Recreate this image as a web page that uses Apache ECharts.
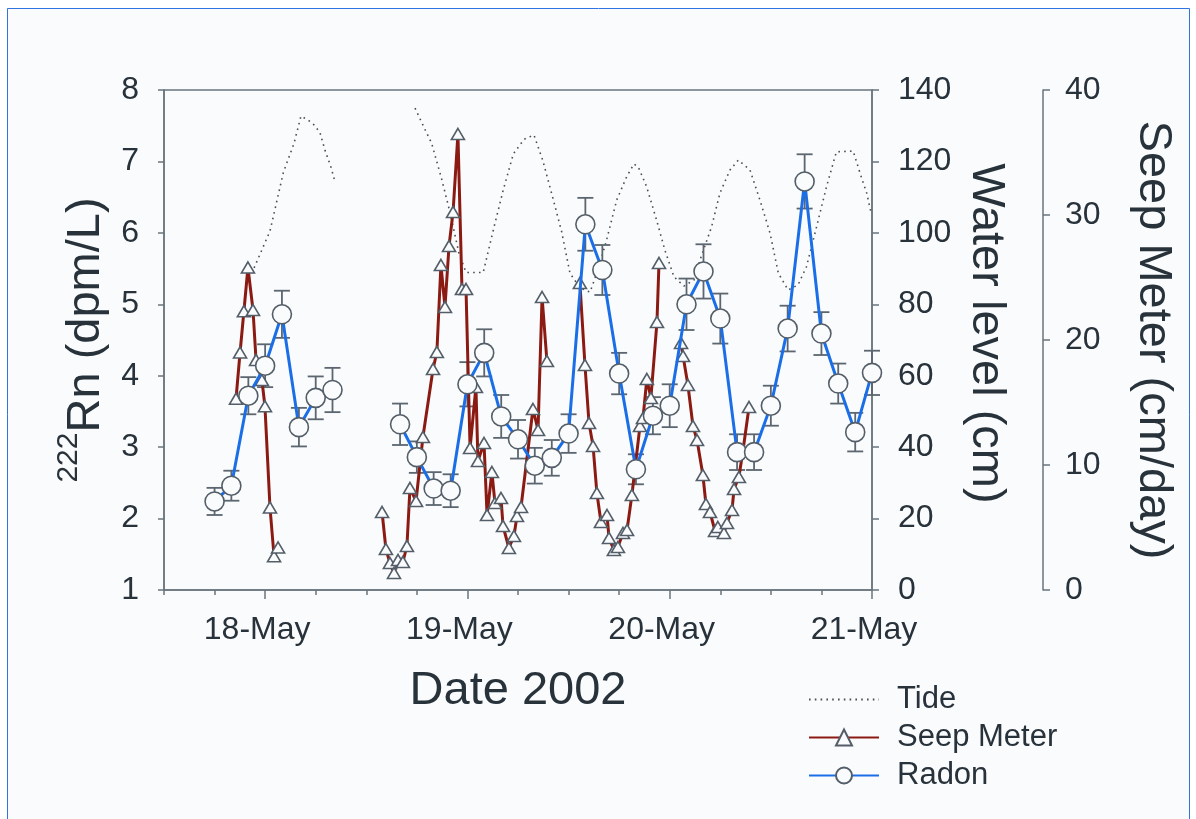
<!DOCTYPE html>
<html>
<head>
<meta charset="utf-8">
<script src="https://cdn.jsdelivr.net/npm/echarts@6/dist/echarts.min.js"></script>
<style>
html,body{margin:0;padding:0;background:#ffffff;}
#chart{width:1196px;height:819px;}
</style>
</head>
<body>
<div id="chart"></div>
<script>
// ---- Data (time in decimal day-of-May 2002) ----
const dayTicks = [18, 19, 20, 21];
const dayLabels = ['18-May', '19-May', '20-May', '21-May'];
const quarterTicks = [17.5, 17.75, 18, 18.25, 18.5, 18.75, 19, 19.25, 19.5, 19.75, 20, 20.25, 20.5, 20.75, 21];

// Radon (dpm/L), null = gap
const radonTime = [17.75, 17.833, 17.917, 18.0, 18.083, 18.167, 18.25, 18.333, null,
  18.667, 18.75, 18.833, 18.917, 19.0, 19.083, 19.167, 19.25, 19.333, 19.417, 19.5,
  19.583, 19.667, 19.75, 19.833, 19.917, 20.0, 20.083, 20.167, 20.25, 20.333, 20.417,
  20.5, 20.583, 20.667, 20.75, 20.833, 20.917, 21.0];
const radonValue = [2.24, 2.46, 3.72, 4.14, 4.86, 3.28, 3.69, 3.80, null,
  3.32, 2.86, 2.42, 2.39, 3.88, 4.32, 3.43, 3.11, 2.74, 2.85, 3.19,
  6.12, 5.48, 4.03, 2.69, 3.44, 3.58, 5.00, 5.46, 4.80, 2.93, 2.93,
  3.58, 4.66, 6.72, 4.59, 3.89, 3.21, 4.04];
const radonError = [0.19, 0.21, 0.26, 0.30, 0.33, 0.27, 0.30, 0.31, null,
  0.29, 0.22, 0.23, 0.23, 0.31, 0.33, 0.30, 0.27, 0.25, 0.25, 0.27,
  0.37, 0.35, 0.29, 0.21, 0.26, 0.30, 0.36, 0.38, 0.35, 0.25, 0.25,
  0.28, 0.32, 0.38, 0.30, 0.28, 0.27, 0.31];

// Seep meter (cm/day), null = gap
const seepTime = [17.856, 17.876, 17.895, 17.915, 17.940, 17.955, 17.984, 17.999, 18.024, 18.044, 18.064, null,
  18.578, 18.597, 18.617, 18.637, 18.657, 18.681, 18.701, 18.716, 18.746, 18.780, 18.830, 18.849,
  18.869, 18.889, 18.909, 18.929, 18.953, 18.973, 18.993, 19.013, 19.042, 19.052, 19.082, 19.097,
  19.121, 19.136, 19.166, 19.176, 19.205, 19.230, 19.245, 19.265, 19.324, 19.349, 19.369, 19.393, null,
  19.556, 19.581, 19.601, 19.621, 19.640, 19.660, 19.690, 19.700, 19.724, 19.744, 19.769, 19.789,
  19.813, 19.853, 19.868, 19.887, 19.907, 19.937, 19.947, null,
  20.056, 20.066, 20.090, 20.115, 20.135, 20.164, 20.179, 20.199, 20.224, 20.238, 20.268, 20.283,
  20.308, 20.318, 20.342, 20.362, 20.392];
const seepValue = [15.3, 19.0, 22.3, 25.8, 22.4, 18.4, 16.8, 14.7, 6.6, 2.7, 3.4, null,
  6.24, 3.28, 2.16, 1.36, 2.40, 2.24, 3.52, 8.16, 7.12, 12.24, 17.68, 19.04,
  26.0, 22.64, 27.52, 30.24, 36.48, 24.08, 24.08, 11.36, 16.24, 10.32, 11.76, 6.0,
  9.44, 6.96, 7.36, 5.12, 3.36, 4.32, 5.92, 6.64, 14.48, 12.8, 23.44, 18.32, null,
  24.56, 18.0, 13.36, 11.52, 7.76, 5.44, 6.0, 4.16, 3.2, 3.44, 4.56, 4.8,
  7.6, 13.12, 13.76, 16.88, 15.36, 21.44, 26.16, null,
  19.76, 18.72, 16.4, 13.12, 12.0, 9.2, 6.88, 6.24, 4.72, 5.04, 4.56, 5.36,
  6.4, 8.08, 9.04, 11.12, 14.64];

// Tide water level (cm), null = gap
const tideTime = [17.934, 18.024, 18.090, 18.143, 18.177, 18.205, 18.235, 18.271, 18.296, 18.326, 18.342, null,
  18.741, 18.799, 18.823, 18.873, 18.914, 18.958, 18.993, 19.078, 19.128, 19.177, 19.227, 19.280,
  19.329, 19.372, 19.416, 19.466, 19.507, 19.556, 19.606, 19.645, 19.688, 19.738, 19.787, 19.823,
  19.845, 19.886, 19.935, 19.976, 20.021, 20.070, 20.120, 20.150, 20.207, 20.248, 20.298, 20.339,
  20.397, 20.446, 20.496, 20.537, 20.585, 20.634, 20.676, 20.726, 20.775, 20.824, 20.907, 20.941,
  20.974, 20.993];
const tideLevel = [88.7, 100.5, 116.9, 125.1, 132.7, 131.8, 130.7, 128.1, 123.1, 118.3, 115.0, null,
  134.9, 127.9, 125.1, 115.0, 105.7, 94.3, 88.9, 88.9, 100.8, 112.0, 122.1, 126.2,
  127.4, 120.4, 111.1, 100.3, 88.7, 84.6, 83.4, 89.6, 98.0, 109.2, 115.7, 119.3,
  118.4, 112.9, 103.6, 95.2, 87.7, 85.1, 86.8, 92.4, 101.7, 111.1, 117.6, 120.4,
  117.6, 109.2, 99.9, 88.7, 84.0, 85.4, 90.5, 101.7, 112.9, 122.7, 122.9, 116.7,
  111.1, 106.2];

// ---- build series data ----
function pairs(xs, ys) {
  return xs.map((x, i) => (x === null || ys[i] === null) ? ['-', '-'] : [x, ys[i]]);
}
const errData = [];
radonTime.forEach((t, i) => {
  if (t !== null) errData.push([t, radonValue[i] - radonError[i], radonValue[i] + radonError[i]]);
});

const FONT = "'Liberation Sans', Arial, sans-serif";
const TXT = '#28323b';
const AX = '#6a757e';
const MK = '#535e68';
const TICKF = 32;
const TITLEF = 47;

const chart = echarts.init(document.getElementById('chart'), null, {renderer: 'canvas'});
chart.setOption({
  backgroundColor: '#ffffff',
  animation: false,
  textStyle: {fontFamily: FONT, color: TXT},
  graphic: [
    {type: 'rect', z: -10, silent: true,
     shape: {x: 7.5, y: 8.5, width: 1182, height: 840},
     style: {fill: '#fafbfc', stroke: '#2f74e0', lineWidth: 1}}
  ],
  grid: {left: 164, right: 324, top: 90, bottom: 229, show: true,
         borderColor: AX, borderWidth: 1.5, backgroundColor: 'transparent'},
  legend: {
    orient: 'vertical', left: 808, top: 684, padding: 0,
    itemWidth: 70, itemHeight: 20, itemGap: 7,
    textStyle: {fontSize: 31, color: TXT, fontFamily: FONT, lineHeight: 31, padding: [0, 0, 0, 13]},
    data: [{name: 'Tide', itemStyle: {opacity: 0}}, 'Seep Meter', 'Radon']
  },
  xAxis: [
    {type: 'value', min: 17.5, max: 21, position: 'bottom',
     name: 'Date 2002', nameLocation: 'middle', nameGap: 78,
     nameTextStyle: {fontSize: TITLEF, color: TXT, fontFamily: FONT},
     axisLine: {show: true, lineStyle: {color: AX, width: 1.5}},
     axisTick: {show: true, length: 5, customValues: quarterTicks, lineStyle: {color: AX, width: 1.5}},
     axisLabel: {show: true, customValues: dayTicks, margin: 24, fontSize: TICKF, color: TXT, fontFamily: FONT,
       padding: [0, 16, 0, 0],
       formatter: v => dayLabels[dayTicks.indexOf(Math.round(v))] || ''},
     splitLine: {show: false}},
    {type: 'value', min: 17.5, max: 21, position: 'bottom',
     axisLine: {show: false},
     axisTick: {show: true, length: 9, customValues: dayTicks, lineStyle: {color: AX, width: 1.5}},
     axisLabel: {show: false}, splitLine: {show: false}}
  ],
  yAxis: [
    {type: 'value', min: 1, max: 8, interval: 1, position: 'left',
     name: '{sup|222}{main|Rn (dpm/L)}', nameLocation: 'middle', nameGap: 54, nameRotate: 90,
     nameTextStyle: {color: TXT, fontFamily: FONT,
       rich: {sup: {fontSize: 30, verticalAlign: 'bottom', lineHeight: 30, padding: [0, 0, 26, 0], fontFamily: FONT, color: TXT},
              main: {fontSize: TITLEF, verticalAlign: 'bottom', lineHeight: 50, fontFamily: FONT, color: TXT}}},
     axisLine: {show: true, lineStyle: {color: AX, width: 1.5}},
     axisTick: {show: true, length: 6, lineStyle: {color: AX, width: 1.5}},
     axisLabel: {margin: 25, fontSize: TICKF, color: TXT, fontFamily: FONT},
     splitLine: {show: false}},
    {type: 'value', min: 0, max: 140, interval: 20, position: 'right', offset: 0,
     name: 'Water level (cm)\u00a0', nameLocation: 'middle', nameGap: 76, nameRotate: -90,
     nameTextStyle: {fontSize: TITLEF, color: TXT, fontFamily: FONT},
     axisLine: {show: true, lineStyle: {color: AX, width: 1.5}},
     axisTick: {show: true, length: 7, lineStyle: {color: AX, width: 1.5}},
     axisLabel: {margin: 26, fontSize: TICKF, color: TXT, fontFamily: FONT},
     splitLine: {show: false}},
    {type: 'value', min: 0, max: 40, interval: 10, position: 'right', offset: 171,
     name: 'Seep Meter (cm/day)', nameLocation: 'middle', nameGap: 86, nameRotate: -90,
     nameTextStyle: {fontSize: TITLEF, color: TXT, fontFamily: FONT},
     axisLine: {show: true, lineStyle: {color: AX, width: 1.5}},
     axisTick: {show: true, length: 7, lineStyle: {color: AX, width: 1.5}},
     axisLabel: {margin: 22, fontSize: TICKF, color: TXT, fontFamily: FONT},
     splitLine: {show: false}}
  ],
  series: [
    {name: 'Tide', type: 'line', xAxisIndex: 0, yAxisIndex: 1, z: 1,
     data: pairs(tideTime, tideLevel), showSymbol: false, symbol: 'none',
     lineStyle: {color: '#4a4f55', width: 1.6, type: [1.6, 4.2]},
     itemStyle: {color: '#4a4f55'}},
    {name: 'Radon error', type: 'custom', xAxisIndex: 0, yAxisIndex: 0, z: 2,
     data: errData, encode: {x: 0, y: [1, 2]},
     renderItem: function (params, api) {
       const x = api.value(0);
       const lo = api.coord([x, api.value(1)]);
       const hi = api.coord([x, api.value(2)]);
       const hw = 8;
       const st = {stroke: '#5b6670', lineWidth: 1.8, fill: null};
       return {type: 'group', children: [
         {type: 'line', shape: {x1: lo[0], y1: lo[1], x2: hi[0], y2: hi[1]}, style: st},
         {type: 'line', shape: {x1: lo[0] - hw, y1: lo[1], x2: lo[0] + hw, y2: lo[1]}, style: st},
         {type: 'line', shape: {x1: hi[0] - hw, y1: hi[1], x2: hi[0] + hw, y2: hi[1]}, style: st}
       ]};
     }},
    {name: 'Seep Meter', type: 'line', xAxisIndex: 0, yAxisIndex: 2, z: 3,
     data: pairs(seepTime, seepValue),
     symbol: 'triangle', symbolSize: [13, 11], showAllSymbol: true,
     lineStyle: {color: '#8b1a12', width: 3},
     itemStyle: {color: '#fafbfc', borderColor: MK, borderWidth: 1.6}},
    {name: 'Radon', type: 'line', xAxisIndex: 0, yAxisIndex: 0, z: 4,
     data: pairs(radonTime, radonValue),
     symbol: 'circle', symbolSize: 19, showAllSymbol: true,
     lineStyle: {color: '#1a6ee8', width: 3},
     itemStyle: {color: '#fafbfc', borderColor: MK, borderWidth: 1.6}}
  ]
});
</script>
</body>
</html>
